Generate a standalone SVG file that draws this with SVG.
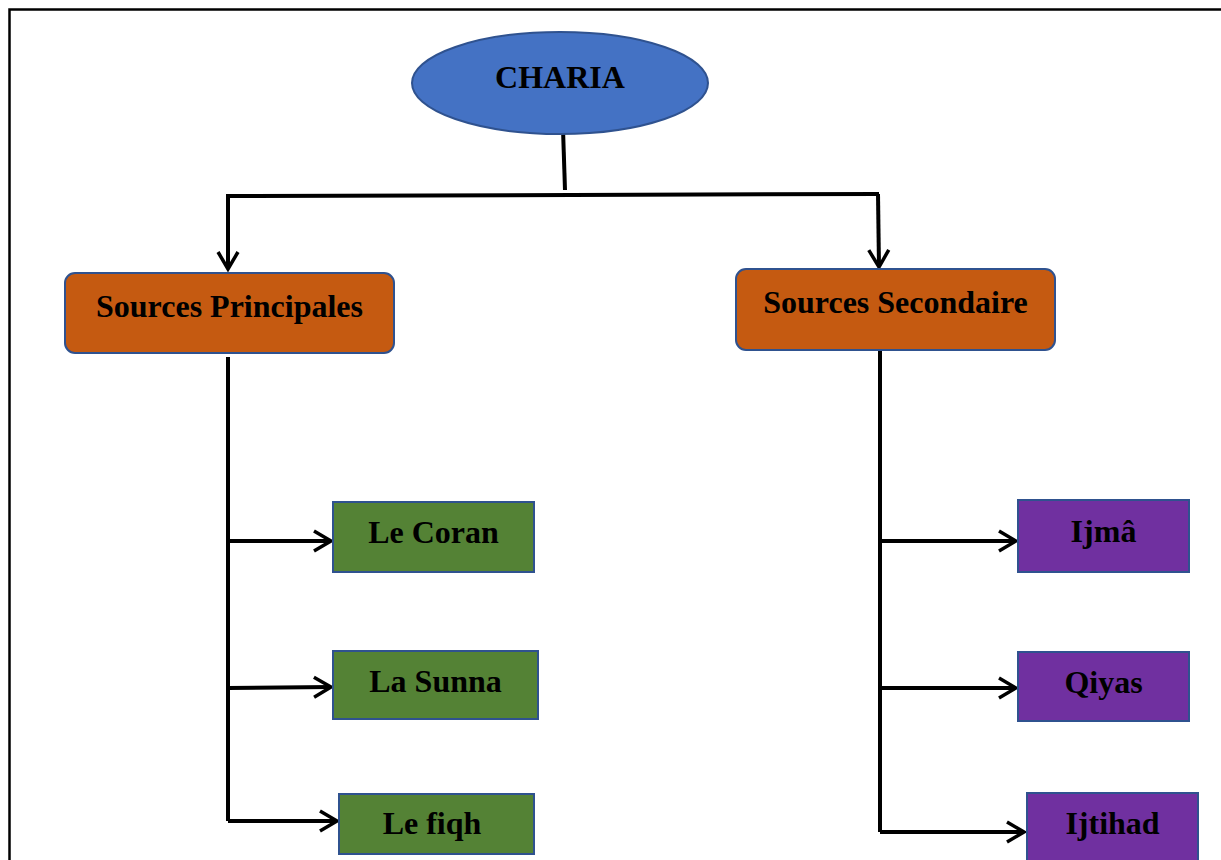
<svg xmlns="http://www.w3.org/2000/svg" width="1221" height="860" viewBox="0 0 1221 860">
<style>
text{font-family:"Liberation Serif","Times New Roman",serif;font-weight:bold;fill:#000;text-anchor:middle}
.t{font-size:32px}
.box{stroke:#2F528F;stroke-width:2}
.c{fill:none;stroke:#000;stroke-width:4}
</style>
<defs>
<marker id="ah" markerWidth="24" markerHeight="24" refX="19" refY="12" orient="auto" markerUnits="userSpaceOnUse">
<path d="M2,2 L19,12 L2,22" fill="none" stroke="#000" stroke-width="3.5"/>
</marker>
</defs>
<rect width="1221" height="860" fill="#fff"/>
<path d="M9.5,860 V9.5 H1221" fill="none" stroke="#000" stroke-width="2.5"/>
<g id="connectors">
<path class="c" d="M563,129 L565,190"/>
<path class="c" d="M879,194 L228,196 L228,269" marker-end="url(#ah)"/>
<path class="c" d="M878,194 L879,267" marker-end="url(#ah)"/>
<path class="c" d="M228,357 L228,821"/>
<path class="c" d="M228,541 L331,541" marker-end="url(#ah)"/>
<path class="c" d="M228,688 L331,687" marker-end="url(#ah)"/>
<path class="c" d="M228,821 L337,821" marker-end="url(#ah)"/>
<path class="c" d="M880,350 L880,832"/>
<path class="c" d="M880,541 L1016,541" marker-end="url(#ah)"/>
<path class="c" d="M880,688 L1016,688" marker-end="url(#ah)"/>
<path class="c" d="M880,832 L1024,832" marker-end="url(#ah)"/>
</g>
<g id="charia">
<ellipse cx="560" cy="83" rx="148" ry="51" fill="#4472C4" stroke="#2F528F" stroke-width="2"/>
<text class="t" x="560" y="88">CHARIA</text>
</g>
<g id="sources-principales">
<rect class="box" x="65" y="273" width="329" height="80" rx="10" fill="#C55A11"/>
<text class="t" x="229.5" y="317">Sources Principales</text>
</g>
<g id="sources-secondaire">
<rect class="box" x="736" y="269" width="319" height="81" rx="10" fill="#C55A11"/>
<text class="t" x="895.5" y="313">Sources Secondaire</text>
</g>
<g id="le-coran">
<rect class="box" x="333" y="502" width="201" height="70" fill="#548235"/>
<text class="t" x="433.5" y="543">Le Coran</text>
</g>
<g id="la-sunna">
<rect class="box" x="333" y="651" width="205" height="68" fill="#548235"/>
<text class="t" x="435.5" y="692">La Sunna</text>
</g>
<g id="le-fiqh">
<rect class="box" x="339" y="794" width="195" height="60" fill="#548235"/>
<text class="t" x="432" y="834">Le fiqh</text>
</g>
<g id="ijma">
<rect class="box" x="1018" y="500" width="171" height="72" fill="#7030A0"/>
<text class="t" x="1103.5" y="542">Ijmâ</text>
</g>
<g id="qiyas">
<rect class="box" x="1018" y="652" width="171" height="69" fill="#7030A0"/>
<text class="t" x="1103.5" y="693">Qiyas</text>
</g>
<g id="ijtihad">
<rect class="box" x="1027" y="793" width="171" height="80" fill="#7030A0"/>
<text class="t" x="1112.5" y="834">Ijtihad</text>
</g>
</svg>
